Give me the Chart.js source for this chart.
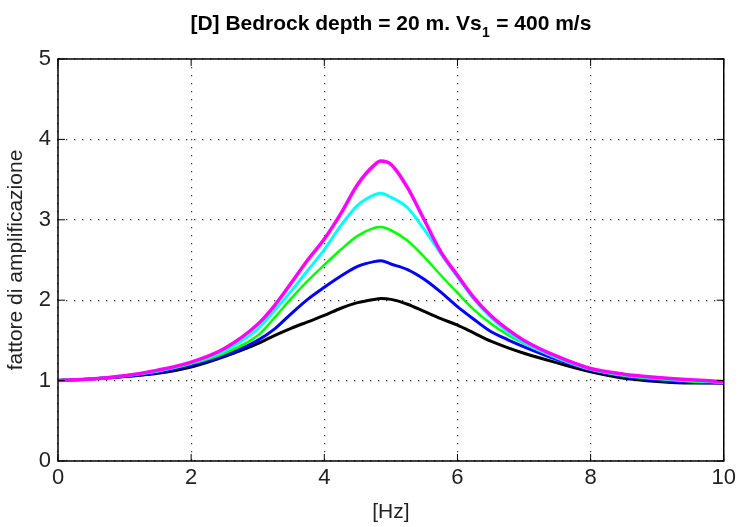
<!DOCTYPE html>
<html>
<head>
<meta charset="utf-8">
<script src="https://cdn.jsdelivr.net/npm/chart.js@4/dist/chart.umd.min.js"></script>
<style>
html,body{margin:0;padding:0;background:#fff;}
#wrap{position:relative;width:740px;height:527px;}
</style>
</head>
<body>
<div id="wrap"><canvas id="c" width="740" height="527"></canvas></div>
<script>
const freq = [0,0.5,1,1.5,2,2.5,3,3.25,3.5,3.75,4,4.25,4.5,4.75,4.85,5,5.25,5.5,5.75,6,6.25,6.5,6.75,7,7.5,8,8.5,9,9.5,10];
const magenta = [1.00,1.02,1.06,1.13,1.23,1.40,1.70,1.93,2.21,2.50,2.76,3.08,3.44,3.68,3.73,3.69,3.40,3.00,2.60,2.31,2.03,1.81,1.64,1.50,1.30,1.15,1.08,1.04,1.01,0.99];
const cyan    = [1.00,1.02,1.06,1.12,1.22,1.37,1.64,1.87,2.11,2.37,2.63,2.93,3.18,3.31,3.33,3.28,3.15,2.88,2.58,2.29,2.01,1.79,1.61,1.47,1.28,1.14,1.07,1.03,1.00,0.98];
const green   = [1.00,1.02,1.06,1.12,1.21,1.34,1.56,1.78,2.02,2.24,2.44,2.63,2.80,2.90,2.91,2.87,2.74,2.54,2.31,2.09,1.88,1.71,1.57,1.46,1.29,1.14,1.06,1.02,0.99,0.98];
const blue    = [1.00,1.02,1.05,1.10,1.19,1.31,1.50,1.64,1.83,2.01,2.16,2.30,2.42,2.48,2.49,2.45,2.38,2.26,2.10,1.92,1.76,1.61,1.51,1.42,1.26,1.13,1.05,1.00,0.98,0.97];
const black   = [1.00,1.02,1.05,1.09,1.17,1.30,1.46,1.56,1.65,1.73,1.81,1.90,1.97,2.01,2.02,2.01,1.95,1.86,1.77,1.69,1.59,1.49,1.41,1.34,1.22,1.11,1.03,0.99,0.97,0.97];
const xTicks = [0,2,4,6,8,10];
const yTicks = [0,1,2,3,4,5];
const titleMain = "[D] Bedrock depth = 20 m. Vs";
const titleSub = "1";
const titleEnd = " = 400 m/s";
const xLabel = "[Hz]";
const yLabel = "fattore di amplificazione";

const FONT = "'Liberation Sans', Arial, sans-serif";

function pts(arr){ return freq.map((f,i)=>({x:f,y:arr[i]})); }
function ds(arr,color,w){ return {data:pts(arr),borderColor:color,backgroundColor:color,borderWidth:w,pointRadius:0,cubicInterpolationMode:'monotone',fill:false}; }

const boxPlugin = {
  id:'box',
  afterDraw(chart){
    const {ctx, chartArea:a, scales} = chart;
    ctx.save();
    ctx.strokeStyle='#000'; ctx.lineWidth=1.5;
    ctx.strokeRect(a.left, a.top, a.right-a.left, a.bottom-a.top);
    const tl=7;
    ctx.lineWidth=1;
    ctx.beginPath();
    scales.x.ticks.forEach(t=>{
      const px = scales.x.getPixelForValue(t.value);
      ctx.moveTo(px,a.bottom); ctx.lineTo(px,a.bottom-tl);
      ctx.moveTo(px,a.top); ctx.lineTo(px,a.top+tl);
    });
    scales.y.ticks.forEach(t=>{
      const py = scales.y.getPixelForValue(t.value);
      ctx.moveTo(a.left,py); ctx.lineTo(a.left+tl,py);
      ctx.moveTo(a.right,py); ctx.lineTo(a.right-tl,py);
    });
    ctx.stroke();
    // title with subscript
    ctx.fillStyle='#000';
    ctx.textBaseline='alphabetic';
    const big = "bold 21px " + FONT, small = "bold 14px " + FONT;
    ctx.font=big; const w1=ctx.measureText(titleMain).width; const w3=ctx.measureText(titleEnd).width;
    ctx.font=small; const w2=ctx.measureText(titleSub).width+1;
    let x = (a.left+a.right)/2 - (w1+w2+w3)/2;
    const y = 30;
    ctx.textAlign='left';
    ctx.font=big; ctx.fillText(titleMain,x,y); x+=w1;
    ctx.font=small; ctx.fillText(titleSub,x+0.5,y+7); x+=w2;
    ctx.font=big; ctx.fillText(titleEnd,x,y);
    ctx.restore();
  }
};

new Chart(document.getElementById('c'),{
  type:'line',
  data:{datasets:[ds(magenta,'#ff00ff',3.5),ds(cyan,'#00ffff',3),ds(green,'#00ff00',2.5),ds(blue,'#0000ff',3),ds(black,'#000000',3)]},
  options:{
    responsive:false, animation:false, devicePixelRatio:1,
    layout:{padding:{top:59,right:15,bottom:0,left:0}},
    plugins:{legend:{display:false},tooltip:{enabled:false},title:{display:false}},
    scales:{
      x:{type:'linear',min:0,max:10,
        afterBuildTicks(s){ s.ticks = xTicks.map(v=>({value:v})); },
        afterFit(s){ s.height=66; },
        ticks:{color:'#222',font:{family:FONT,size:22},padding:4,maxRotation:0,autoSkip:false},
        grid:{color:'#333',lineWidth:1.2,drawTicks:false},
        border:{display:false,dash:[1.3,6.7]},
        title:{display:true,text:xLabel,color:'#222',font:{family:FONT,size:21},padding:{top:0,bottom:2}}
      },
      y:{type:'linear',min:0,max:5,
        afterBuildTicks(s){ s.ticks = yTicks.map(v=>({value:v})); },
        afterFit(s){ s.width=58; },
        ticks:{color:'#222',font:{family:FONT,size:22},padding:7},
        grid:{color:'#333',lineWidth:1.2,drawTicks:false},
        border:{display:false,dash:[1.3,6.7]},
        title:{display:true,text:yLabel,color:'#222',font:{family:FONT,size:21},padding:{top:4,bottom:0}}
      }
    }
  },
  plugins:[boxPlugin]
});
</script>
</body>
</html>
